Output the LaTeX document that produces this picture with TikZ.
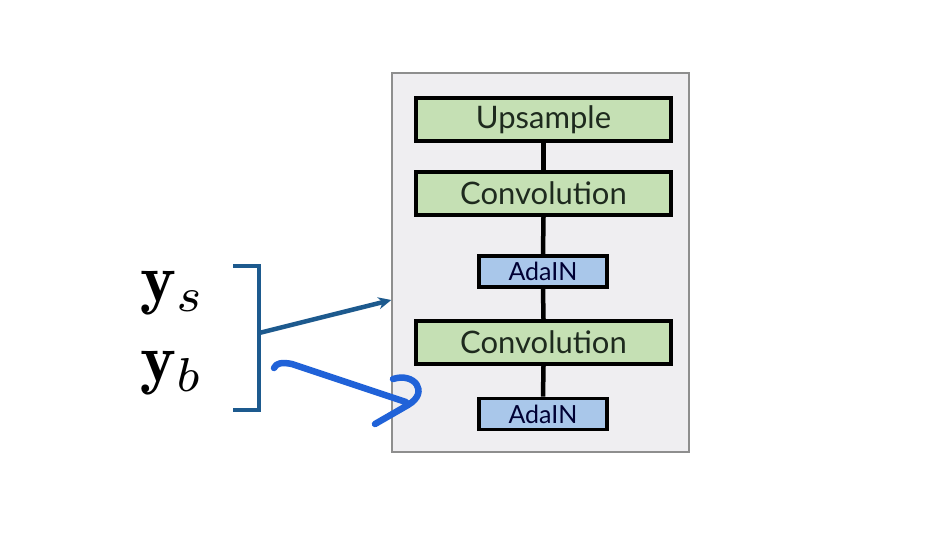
\documentclass[tikz,border=0pt]{standalone}
\usepackage{graphicx}
\usepackage{fontspec}
\newfontfamily\lato{Lato}
\usetikzlibrary{arrows.meta}
\definecolor{panel}{HTML}{EFEEF1}
\definecolor{panelline}{HTML}{8E8E8E}
\definecolor{greenfill}{HTML}{C5E0B4}
\definecolor{bluefill}{HTML}{A9C7EA}
\definecolor{darkblue}{HTML}{1D5A8E}
\definecolor{penblue}{HTML}{2062D8}
\definecolor{txt}{HTML}{1E2A1E}
\tikzset{
  greenbox/.style={draw=black, line width=3.6pt, fill=greenfill, minimum width=255pt, minimum height=43pt, inner sep=0pt, font=\lato\fontsize{31}{31}\selectfont, text=txt},
  bluebox/.style={draw=black, line width=3.6pt, fill=bluefill, minimum width=128pt, minimum height=31pt, inner sep=0pt, font=\lato\fontsize{25}{25}\selectfont, text=black!80!blue},
  link/.style={line width=4.5pt, black},
  mathlbl/.style={anchor=base west, inner sep=0pt, font=\fontsize{10}{12}\selectfont},
  bracket/.style={draw=darkblue, line width=4.5pt},
}
\begin{document}
\begin{tikzpicture}[x=1pt,y=-1pt]
\useasboundingbox (0,0) rectangle (936,550);
\fill[white] (0,0) rectangle (936,550);
\node[draw=panelline, line width=1.4pt, fill=panel, minimum width=297pt, minimum height=379pt, inner sep=0pt] (panel) at (540.5,262.5) {};
\node[greenbox] (up) at (543.5,119.5) {Upsample};
\node[greenbox] (conv1) at (543.5,193.5) {Convolution};
\node[bluebox] (ada1) at (543,271.5) {AdaIN};
\node[greenbox] (conv2) at (543.5,342.5) {Convolution};
\node[bluebox] (ada2) at (543,414) {AdaIN};
\draw[link] (up.south) -- (conv1.north);
\draw[link] (conv1.south) -- (ada1.north);
\draw[link] (ada1.south) -- (conv2.north);
\draw[link] (conv2.south) -- (ada2.north);
\node[mathlbl] (ys) at (140,301) {\scalebox{6.8}{$\mathbf{y}_s$}};
\node[mathlbl] (yb) at (140,381) {\scalebox{6.8}{$\mathbf{y}_b$}};
\coordinate (bt) at (233,266);
\coordinate (bb) at (233,410);
\coordinate (bmid) at (259,333);
\draw[bracket, line cap=butt, line join=miter] (bt) -- (259,266) -- (259,410) -- (bb);
\draw[darkblue, line width=4.5pt, -{Stealth[length=13pt,width=12pt]}] (bmid) -- (panel.west |- 0,300);
\coordinate (ps) at (274,368);
\coordinate (pe) at (406,402);
\draw[penblue, line width=6.5pt, line cap=round, line join=round]
  (ps) .. controls (276,363) and (282,362) .. (292,364) -- (pe)
  (393,379) .. controls (414,372) and (430,392) .. (408,405) -- (375,424);
\end{tikzpicture}
\end{document}
